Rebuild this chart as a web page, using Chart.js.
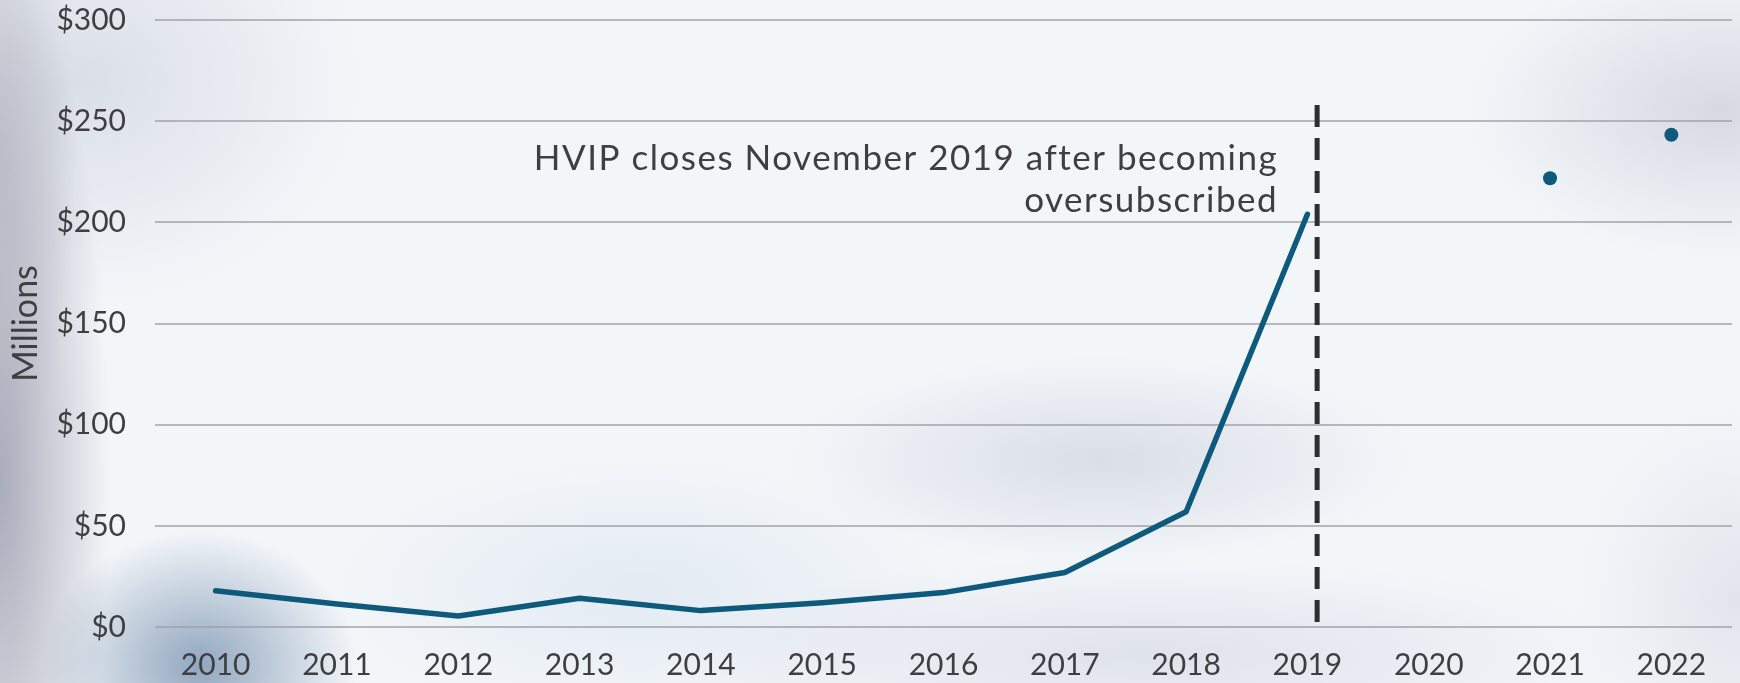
<!DOCTYPE html>
<html><head><meta charset="utf-8">
<script src="https://cdn.jsdelivr.net/npm/chart.js@4.4.0/dist/chart.umd.min.js"></script>
<style>
html,body{margin:0;padding:0;width:1740px;height:683px;overflow:hidden;}
body{
 background:
  radial-gradient(ellipse 210px 180px at 200px 665px, rgba(128,153,180,0.85), rgba(128,153,180,0) 75%),
  radial-gradient(ellipse 130px 600px at 0px 480px, rgba(165,168,182,0.95), rgba(165,168,182,0) 85%),
  radial-gradient(ellipse 90px 380px at 0px 150px, rgba(190,193,203,0.8), rgba(190,193,203,0) 85%),
  radial-gradient(ellipse 380px 300px at 80px 80px, rgba(212,217,227,0.8), rgba(212,217,227,0) 75%),
  radial-gradient(ellipse 420px 140px at 1100px 460px, rgba(200,206,220,0.6), rgba(200,206,220,0) 75%),
  radial-gradient(ellipse 340px 200px at 1720px 110px, rgba(205,208,218,0.75), rgba(205,208,218,0) 75%),
  radial-gradient(ellipse 650px 130px at 1150px 655px, rgba(212,216,228,0.65), rgba(212,216,228,0) 75%),
  radial-gradient(ellipse 420px 180px at 640px 590px, rgba(216,227,238,0.6), rgba(216,227,238,0) 75%),
  radial-gradient(ellipse 220px 260px at 1740px 600px, rgba(214,217,226,0.6), rgba(214,217,226,0) 75%),
  #f3f6f9;
}
#wrap{position:relative;width:1740px;height:683px;}
</style></head>
<body><div id="wrap"><canvas id="c" width="1740" height="683"></canvas></div>
<script>
const years = ['2010','2011','2012','2013','2014','2015','2016','2017','2018','2019','2020','2021','2022'];
const fundingLine = [17.9, 11.4, 5.4, 14.2, 8.1, 12, 17, 26.9, 57, 204, null, null, null];
const fundingDots = [null, null, null, null, null, null, null, null, null, null, null, 221.8, 243.3];
const yTicks = [0, 50, 100, 150, 200, 250, 300];
const yTitle = 'Millions';
const noteLines = ['HVIP closes November 2019 after becoming', 'oversubscribed'];
const noteBaselines = [226, 205];
const markerCategory = 9;      // 2019
const markerOffset = 0.08;     // November, in category widths
const markerTop = 258;

const TEXT = '#3f3f42';
const LINE = '#0e5a7c';
const FONT = 'Lato, "Noto Sans", sans-serif';

const markerPlugin = {
  id: 'marker',
  afterDatasetsDraw(chart) {
    const {ctx, scales:{x, y}} = chart;
    const step = x.getPixelForValue(1) - x.getPixelForValue(0);
    const px = x.getPixelForValue(markerCategory) + markerOffset * step;
    ctx.save();
    ctx.strokeStyle = '#2e2e30';
    ctx.lineWidth = 5;
    ctx.setLineDash([22, 11]);
    ctx.beginPath();
    ctx.moveTo(px, y.getPixelForValue(markerTop));
    ctx.lineTo(px, y.getPixelForValue(0));
    ctx.stroke();
    ctx.setLineDash([]);
    ctx.fillStyle = TEXT;
    ctx.font = '35px ' + FONT;
    try { ctx.letterSpacing = '1.5px'; } catch (e) {}
    ctx.textAlign = 'right';
    ctx.textBaseline = 'alphabetic';
    noteLines.forEach((t, i) => ctx.fillText(t, px - 39, y.getPixelForValue(noteBaselines[i])));
    ctx.restore();
  }
};

new Chart(document.getElementById('c'), {
  type: 'line',
  data: {
    labels: years,
    datasets: [
      { data: fundingLine, borderColor: LINE, borderWidth: 5.5, pointRadius: 0, pointHoverRadius: 0, spanGaps: false, tension: 0, borderCapStyle: 'round', borderJoinStyle: 'round' },
      { data: fundingDots, showLine: false, pointRadius: 7, pointBackgroundColor: LINE, pointBorderColor: LINE, pointBorderWidth: 0 }
    ]
  },
  options: {
    responsive: false,
    animation: false,
    layout: { padding: { top: 20, right: 8, left: 0, bottom: 0 } },
    plugins: { legend: { display: false }, tooltip: { enabled: false } },
    scales: {
      x: {
        offset: true,
        grid: { display: false, drawTicks: false },
        border: { display: false },
        afterFit(s) { s.height = 56; },
        ticks: { color: TEXT, font: { family: FONT, size: 30, lineHeight: 1.2 }, padding: 20, maxRotation: 0, autoSkip: false }
      },
      y: {
        min: 0, max: 300,
        afterBuildTicks(s) { s.ticks = yTicks.map(v => ({ value: v })); },
        afterFit(s) { s.width = 155; s.paddingTop = 18; s.paddingBottom = 18; },
        grid: { color: 'rgba(160,160,166,0.72)', lineWidth: 2, drawTicks: false },
        border: { display: false },
        ticks: { color: TEXT, font: { family: FONT, size: 30, lineHeight: 1.2 }, padding: 29, callback: v => '$' + v },
        title: { display: true, text: yTitle, color: TEXT, font: { family: FONT, size: 34, lineHeight: 1.2 }, padding: { top: 6, bottom: 0 } }
      }
    }
  },
  plugins: [markerPlugin]
});
</script>
</body></html>
